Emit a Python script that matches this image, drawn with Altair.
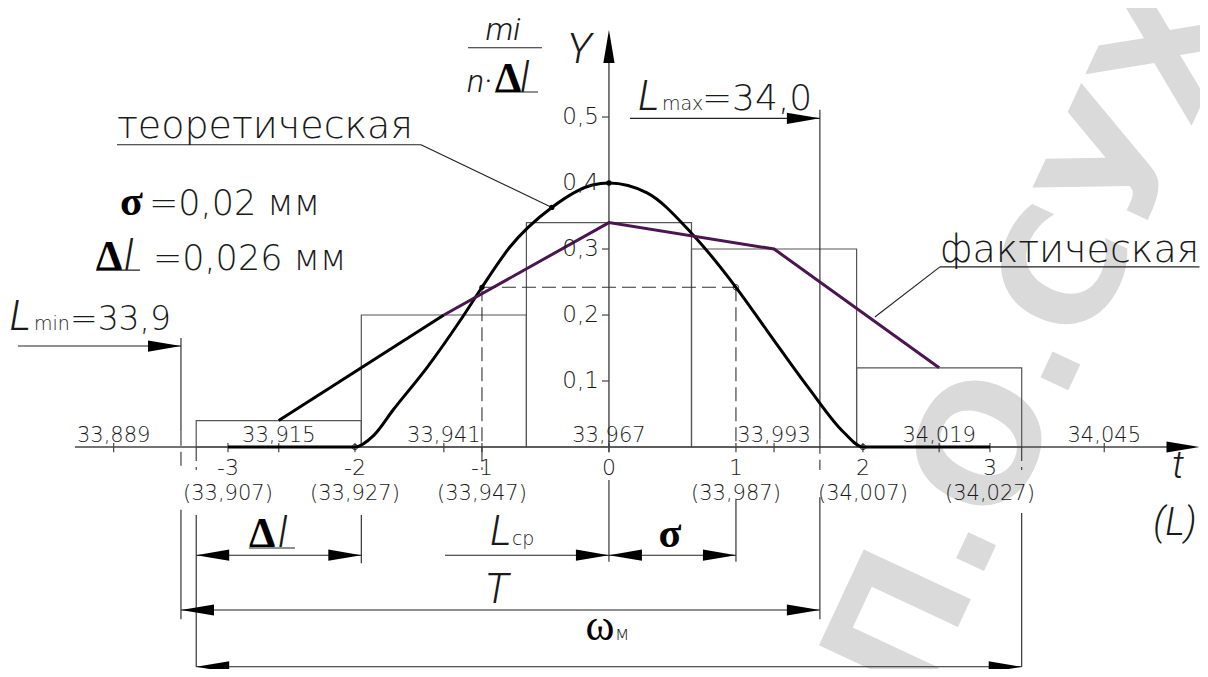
import altair as alt
import pandas as pd

# ---------------- data ----------------
# histogram (t = (L - 33.967) / 0.02)
bin_left = [-3.25, -1.95, -0.65, 0.65, 1.95]
bin_right = [-1.95, -0.65, 0.65, 1.95, 3.25]
bin_height = [0.04, 0.20, 0.34, 0.30, 0.12]

# empirical polygon ("фактическая")
actual_t = [-2.6, -1.3, 0.0, 1.3, 2.6]
actual_y = [0.04, 0.20, 0.34, 0.30, 0.12]

# theoretical curve ("теоретическая")
theory_t = [-3.0, -2.5, -2.0, -1.85, -1.7, -1.43, -1.17, -1.0, -0.78, -0.45, -0.13,
            0.0, 0.3, 0.65, 1.0, 1.25, 1.57, 1.85, 2.0, 2.5, 3.0]
theory_y = [0.0, 0.0, 0.0, 0.018, 0.056, 0.121, 0.192, 0.242, 0.303, 0.363, 0.397,
            0.4, 0.385, 0.324, 0.242, 0.175, 0.09, 0.022, 0.0, 0.0, 0.0]

# axis labels
L_mid = [33.889, 33.915, 33.941, 33.967, 33.993, 34.019, 34.045]
t_ticks = [-3, -2, -1, 0, 1, 2, 3]
L_t = ["(33,907)", "(33,927)", "(33,947)", "", "(33,987)", "(34,007)", "(34,027)"]
y_ticks = [0.1, 0.2, 0.3, 0.4, 0.5]
y_labels = ["0,1", "0,2", "0,3", "0,4", "0,5"]
L_center = 33.967
sigma = 0.02

# ---------------- helpers ----------------
XS = alt.Scale(domain=[-4.732, 4.654], nice=False, zero=False)
YS = alt.Scale(domain=[-0.3364, 0.6652], nice=False, zero=False)
FONT = "DejaVu Sans ExtraLight, DejaVu Sans, sans-serif"
ITALIC = "Roboto, Lato, DejaVu Sans, sans-serif"
SERIF = "Liberation Serif, DejaVu Serif, serif"
TXT = "#1a1a1a"


def xe(f):
    return alt.X(f, type="quantitative", scale=XS, axis=None)


def ye(f):
    return alt.Y(f, type="quantitative", scale=YS, axis=None)


def rules(rows, **kw):
    df = pd.DataFrame(rows, columns=["x", "y", "x2", "y2"])
    return alt.Chart(df).mark_rule(**kw).encode(
        x=xe("x"), y=ye("y"), x2="x2:Q", y2="y2:Q")


def texts(rows, **kw):
    df = pd.DataFrame(rows, columns=["x", "y", "s"])
    kw.setdefault("color", TXT)
    kw.setdefault("align", "left")
    kw.setdefault("baseline", "alphabetic")
    kw.setdefault("fontWeight", 200)
    return alt.Chart(df).mark_text(**kw).encode(x=xe("x"), y=ye("y"), text="s:N")


ARROW = "M0,0L-1,-0.17L-1,0.17Z"


def arrows(rows, size=4356):
    df = pd.DataFrame(rows, columns=["x", "y", "ang"])
    return alt.Chart(df).mark_point(shape=ARROW, filled=True, size=size, color="black",
                                    opacity=1, strokeWidth=0).encode(
        x=xe("x"), y=ye("y"), angle=alt.Angle("ang:Q", scale=None))


layers = []

# watermark (centre of the visible part)
layers.append(texts([[3.37, 0.16, "П.О.СУХ"]], font="DejaVu Sans", fontSize=162,
                    fontWeight="bold", color="#dadada", angle=295, align="center",
                    baseline="middle"))

# histogram
hist = pd.DataFrame({"l": bin_left, "r": bin_right, "h": bin_height, "z": [0.0] * 5})
layers.append(alt.Chart(hist).mark_rect(fillOpacity=0, stroke="#555555", strokeWidth=1.2).encode(
    x=xe("l"), x2="r:Q", y=ye("z"), y2="h:Q"))

# axes
layers.append(rules([[-4.205, 0, 4.6, 0], [0, 0, 0, 0.6]], color="#444444", strokeWidth=1.4))
xt = [(v - L_center) / sigma for v in L_mid] + t_ticks
layers.append(rules([[x, 0.006, x, -0.008] for x in xt], color="#444444", strokeWidth=1.2))
layers.append(rules([[-0.055, v, 0.0, v] for v in y_ticks], color="#444444", strokeWidth=1.2))

# thin dimension / extension lines (solid)
layers.append(rules([
    [-3.37, 0.165, -3.37, 0.023], [-3.37, -0.095, -3.37, -0.261],
    [-3.25, -0.103, -3.25, -0.333],
    [-1.95, -0.103, -1.95, -0.176],
    [0, -0.05, 0, -0.174],
    [1, -0.08, 1, -0.174],
    [1.661, 0.511, 1.661, 0.011], [1.661, -0.076, 1.661, -0.261],
    [3.25, -0.1, 3.25, -0.333],
    [-3.25, -0.164, -1.95, -0.164],
    [-1.291, -0.164, 0, -0.164],
    [0, -0.164, 1, -0.164],
    [-3.37, -0.247, 1.661, -0.247],
    [-3.25, -0.333, 3.25, -0.333],
    [0.165, 0.498, 1.661, 0.498],
    [-4.654, 0.153, -3.37, 0.153],
    [-3.874, 0.458, -1.48, 0.458], [-1.48, 0.458, -0.449, 0.363],
    [2.606, 0.273, 4.65, 0.273], [2.606, 0.273, 2.094, 0.197],
    [-1.11, 0.605, -0.528, 0.605],
    [-0.898, 0.538, -0.559, 0.538],
    [-4.039, 0.268, -3.693, 0.268],
    [-2.835, -0.153, -2.472, -0.153],
], color="#222222", strokeWidth=1.1))

# dashed lines
layers.append(rules([
    [-3.37, 0.023, -3.37, -0.035], [-3.25, 0, -3.25, -0.035], [1.661, 0.011, 1.661, -0.035],
    [3.25, 0, 3.25, -0.035], [-1.0, 0.242, -1.0, -0.035], [1.0, 0.242, 1.0, 0.0],
    [-1.0, 0.242, 1.0, 0.242],
], color="#333333", strokeWidth=1.1, strokeDash=[14, 6]))

# theoretical curve
theo = pd.DataFrame({"t": theory_t, "y": theory_y})
layers.append(alt.Chart(theo).mark_line(color="black", strokeWidth=3, interpolate="monotone").encode(
    x=xe("t"), y=ye("y")))

# empirical polygon: first leg black, rest purple
act1 = pd.DataFrame({"t": actual_t[:2], "y": actual_y[:2]})
act2 = pd.DataFrame({"t": actual_t[1:], "y": actual_y[1:]})
layers.append(alt.Chart(act1).mark_line(color="black", strokeWidth=3).encode(
    x=xe("t"), y=ye("y")))
layers.append(alt.Chart(act2).mark_line(color="#4b1650", strokeWidth=3).encode(
    x=xe("t"), y=ye("y")))

# markers on the curve
dots = pd.DataFrame({"t": [0.0, -0.45, -1.0], "y": [0.4, 0.363, 0.242]})
layers.append(alt.Chart(dots).mark_point(filled=True, color="black", size=28, opacity=1).encode(
    x=xe("t"), y=ye("y")))
circ = pd.DataFrame({"t": [-2.0, 1.0, 2.0], "y": [0.0, 0.242, 0.0]})
layers.append(alt.Chart(circ).mark_point(filled=False, color="black", size=30, strokeWidth=1).encode(
    x=xe("t"), y=ye("y")))

# arrowheads
layers.append(arrows([
    [4.65, 0, 0], [0, 0.632, 270],
    [1.661, 0.498, 0], [-3.37, 0.153, 0],
    [-3.25, -0.164, 180], [-1.95, -0.164, 0],
    [0, -0.164, 0], [0, -0.164, 180], [1, -0.164, 0],
    [-3.37, -0.247, 180], [1.661, -0.247, 0],
    [-3.25, -0.333, 180], [3.25, -0.333, 0],
]))

# axis tick labels
up = [[(v - L_center) / sigma, 0.008, f"{v:.3f}".replace(".", ",")] for v in L_mid]
layers.append(texts(up, font=FONT, fontSize=21, align="center"))
low = [[t, -0.042, str(t)] for t in t_ticks]
layers.append(texts(low, font=FONT, fontSize=22, align="center"))
par = [[t, -0.08, s] for t, s in zip(t_ticks, L_t) if s]
layers.append(texts(par, font=FONT, fontSize=21, align="center"))
yl = [[-0.079, v, s] for v, s in zip(y_ticks, y_labels)]
layers.append(texts(yl, font=FONT, fontSize=23, align="right", baseline="middle"))

# labels in the drawing font
layers.append(texts([
    [-3.874, 0.468, "теоретическая"],
    [2.606, 0.28, "фактическая"],
], font=FONT, fontSize=38))
layers.append(texts([
    [-3.622, 0.352, "=0,02 мм"],
    [-3.591, 0.268, "=0,026 мм"],
], font=FONT, fontSize=35))
layers.append(texts([
    [0.732, 0.511, "=34,0"],
], font=FONT, fontSize=36))
layers.append(texts([
    [-4.244, 0.177, "=33,9"],
], font=FONT, fontSize=33))
layers.append(texts([
    [0.417, 0.511, "max"], [-4.528, 0.177, "min"], [-0.764, -0.148, "ср"], [0.047, -0.292, "м"],
], font=FONT, fontSize=19))

# italic letters (thin)
layers.append(texts([
    [0.228, 0.511, "L"], [-4.72, 0.177, "L"], [-0.937, -0.148, "L"],
    [-0.331, 0.582, "Y"], [-0.98, -0.236, "T"],
    [-3.819, 0.268, "l"], [-0.70, 0.538, "l"], [-2.606, -0.152, "l"],
], font=ITALIC, fontSize=42, fontStyle="italic", fontWeight=300))
layers.append(texts([
    [-0.835, 0.617, "mi"], [-1.02, 0.538, "n·"],
], font=ITALIC, fontSize=32, fontStyle="italic", fontWeight=300, align="center"))
layers.append(texts([
    [4.48, -0.047, "t"], [4.457, -0.133, "(L)"],
], font=ITALIC, fontSize=38, fontStyle="italic", fontWeight=300, align="center"))

# bold greek letters
layers.append(texts([
    [-3.85, 0.352, "σ"], [-4.039, 0.268, "Δ"], [-0.898, 0.538, "Δ"], [-2.835, -0.152, "Δ"],
], font=SERIF, fontSize=42, fontWeight="bold", color="black"))
layers.append(texts([[0.48, -0.152, "σ"]], font=SERIF, fontSize=42, fontWeight="bold",
                    color="black", align="center"))
layers.append(texts([[-0.071, -0.292, "ω"]], font=SERIF, fontSize=44, fontWeight="normal",
                    color="black", align="center"))

chart = alt.layer(*layers).properties(
    width=1192, height=661, autosize=alt.AutoSizeParams(type="none"), padding=0
).configure_view(stroke=None)

chart.save("out.html", embed_options={"renderer": "svg", "actions": False})
